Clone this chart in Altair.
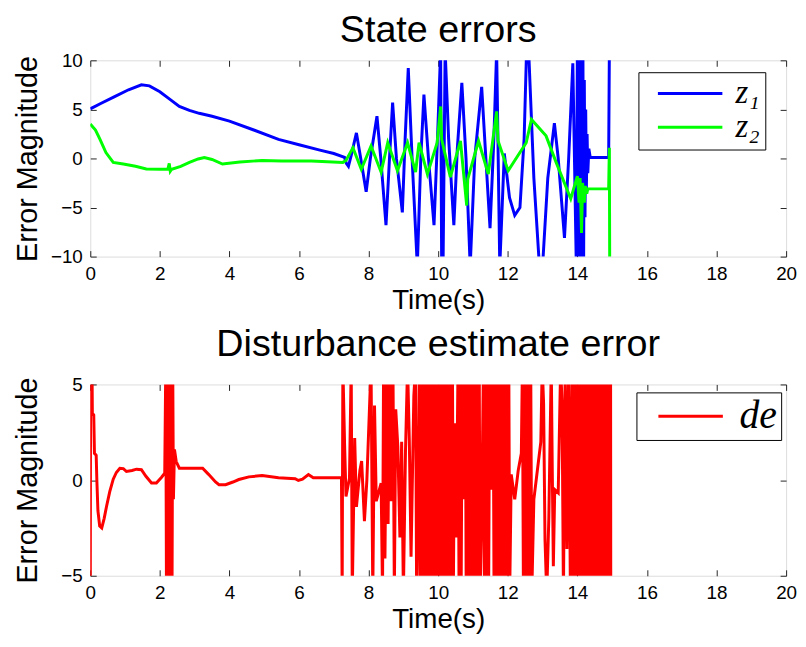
import altair as alt
import pandas as pd

SANS = "Liberation Sans, Arial, sans-serif"
MATH = "Liberation Serif, DejaVu Serif, serif"
FRAME = "#262626"

x_ticks = [0, 2, 4, 6, 8, 10, 12, 14, 16, 18, 20]
state_y_ticks = [-10, -5, 0, 5, 10]
dist_y_ticks = [-5, 0, 5]

state_names = ["z₁", "z₂"]
state_colors = ["#0000ff", "#00ff00"]
dist_names = ["de"]
dist_colors = ["#ff0000"]

# ---- z1 (time, value); values beyond the axis are clipped
z1_drift = [(0.0, 5.05), (0.3, 5.6), (0.7, 6.3), (1.1, 7.0), (1.47, 7.5), (1.7, 7.4),
            (2.0, 6.8), (2.3, 6.0), (2.56, 5.3), (2.85, 4.9), (3.13, 4.6), (3.5, 4.3),
            (4.0, 3.8), (4.7, 2.9), (5.41, 1.95), (6.0, 1.4), (6.6, 0.85), (7.0, 0.5),
            (7.31, 0.1)]
z1_burst = [(7.36, -0.5), (7.42, -0.8), (7.5, 0.3), (7.65, 2.6), (7.75, 0.5), (7.93, -3.4),
            (8.05, 0.0), (8.24, 4.3), (8.35, 0.0), (8.5, -6.8), (8.6, 0.0), (8.69, 5.7),
            (8.8, 0.0), (8.97, -5.5), (9.05, 2.0), (9.14, 9.2), (9.25, 0.0), (9.4, -11),
            (9.5, 0.0), (9.59, 6.5), (9.72, 0.0), (9.88, -6.8), (9.98, 2.0), (10.07, 11),
            (10.1, -11), (10.14, -11), (10.2, 11), (10.3, 2.0), (10.45, -6.8), (10.55, 1.0),
            (10.68, 7.7), (10.8, 0.0), (10.92, -11), (11.05, 0.0), (11.25, 7.3), (11.37, 0.0),
            (11.49, -7.1), (11.6, 2.0), (11.68, 11), (11.77, -11), (11.9, 0.5), (12.05, -4.0),
            (12.2, -5.8), (12.35, -5.0), (12.47, 2.0), (12.54, 11), (12.6, 11), (12.75, -2.0),
            (12.91, -11), (13.0, -11), (13.15, -2.0), (13.34, 3.6), (13.45, 0.0), (13.63, -8.1),
            (13.75, 0.0), (13.87, 9.7), (13.97, -11)]
z1_chatter = [(14.0, 11), (14.02, -11), (14.04, 11), (14.06, -11), (14.08, 11), (14.1, -11),
              (14.12, 11), (14.14, -11), (14.16, 11), (14.18, -11), (14.2, 8.0), (14.22, -6.0),
              (14.24, 5.0), (14.26, -3.0), (14.28, 2.5), (14.3, -1.5), (14.33, 1.0), (14.37, 0.1),
              (14.9, 0.1), (14.92, 11)]

# ---- z2
z2_settle = [(0.0, 3.5), (0.15, 2.9), (0.28, 1.95), (0.45, 0.6), (0.66, -0.4), (0.95, -0.57),
             (1.3, -0.8), (1.61, -1.08), (2.0, -1.1), (2.23, -1.08), (2.27, -0.5), (2.3, -1.3),
             (2.34, -1.1), (2.6, -0.8), (2.85, -0.4), (3.1, -0.05), (3.28, 0.1), (3.5, -0.1),
             (3.8, -0.57), (4.3, -0.37), (4.94, -0.2), (5.5, -0.25), (6.36, -0.27), (7.26, -0.4)]
z2_burst = [(7.35, -0.2), (7.55, 1.1), (7.79, -1.1), (8.07, 1.28), (8.36, -1.4), (8.55, 1.6),
            (8.83, -1.25), (9.12, 1.6), (9.35, -1.4), (9.45, 1.6), (9.69, -1.6), (9.97, 1.6),
            (10.07, 5.3), (10.1, 1.95), (10.35, -1.9), (10.64, 1.78), (10.82, -4.8), (10.85, -2.1),
            (11.16, 1.78), (11.44, -1.6), (11.68, 4.8), (11.72, 1.8), (12.01, -1.25), (12.53, 1.6),
            (12.68, 3.97), (13.1, 2.3), (13.39, -0.4), (13.81, -4.1), (14.0, -1.8), (14.05, -4.5),
            (14.08, -2.0), (14.12, -7.6), (14.15, -2.5), (14.2, -4.5), (14.23, -2.8), (14.27, -3.6),
            (14.3, -3.1), (14.9, -3.1), (14.92, 1.1), (14.93, -11)]

# ---- de
de_start = [(0.0, -6), (0.01, 6), (0.05, 6), (0.06, 3.5), (0.1, 3.4), (0.12, 1.4), (0.17, 1.3),
            (0.19, -0.05), (0.22, -1.6), (0.27, -2.4), (0.33, -2.5), (0.4, -2.0), (0.47, -1.35),
            (0.56, -0.6), (0.66, 0.05), (0.75, 0.4), (0.85, 0.62), (0.95, 0.6), (1.04, 0.45),
            (1.2, 0.5), (1.33, 0.57), (1.47, 0.54), (1.6, 0.2), (1.76, -0.15), (1.9, -0.15),
            (2.05, 0.15), (2.14, 0.36)]
de_glitch = [(2.17, 6), (2.19, -6), (2.21, 6), (2.23, -6), (2.25, 6), (2.27, -6), (2.29, 6),
             (2.31, -6), (2.33, 6), (2.35, -6), (2.37, 6), (2.39, -1.0), (2.42, 1.6), (2.47, 0.97)]
de_calm = [(2.56, 0.62), (3.23, 0.62), (3.4, 0.3), (3.6, -0.1), (3.7, -0.24), (3.89, -0.24),
           (4.1, -0.1), (4.27, 0.03), (4.56, 0.17), (4.94, 0.24), (5.41, 0.12), (5.89, 0.07),
           (5.98, -0.02), (6.1, 0.05), (6.27, 0.29), (6.41, 0.12), (7.22, 0.12)]
de_onset = [(7.24, -6), (7.26, 6), (7.31, 1.84), (7.35, -0.85), (7.45, 0.1), (7.5, 6), (7.53, -6),
            (7.6, 2.2), (7.65, -1.4), (7.75, 0.5), (7.8, 1.0), (7.88, -2.15), (7.95, 0.0),
            (8.07, 6), (8.12, -6), (8.17, 3.9), (8.22, -1.1), (8.36, -0.16), (8.4, -6), (8.43, 6),
            (8.47, -4.1), (8.52, 6), (8.56, -2.3), (8.6, 6), (8.65, -1.1), (8.7, 6), (8.74, -6),
            (8.78, 3.7), (8.84, 1.75), (8.9, -3.0), (8.95, 2.0), (9.0, -6), (9.06, 1.5),
            (9.12, 6), (9.17, 2.1), (9.22, -4.0), (9.3, 4.4), (9.35, 6), (9.38, -6), (9.43, 0.0)]
de_block_a = [(9.46, 6), (9.485, -6), (9.51, 6), (9.535, -6), (9.56, 6), (9.585, -6), (9.61, 6),
              (9.635, -6), (9.66, 6), (9.685, -6), (9.71, 6), (9.735, -6), (9.76, 6), (9.785, -6),
              (9.81, 6), (9.835, -6), (9.86, 6), (9.885, -6), (9.91, 6), (9.935, -6), (9.96, 6),
              (9.985, -6), (10.01, 6), (10.035, -6), (10.06, 6), (10.085, -6), (10.11, 6),
              (10.135, -6), (10.16, 6), (10.185, -6), (10.21, 6), (10.235, -6), (10.26, 6),
              (10.285, -6), (10.31, 6), (10.335, -6), (10.36, 6), (10.385, -6), (10.41, 6),
              (10.435, -6)]
de_gap_a = [(10.47, 2.97), (10.52, -3.0), (10.57, 6), (10.6, -6), (10.63, 6), (10.66, -6),
            (10.69, 6), (10.73, -1.0)]
de_block_b = [(10.78, 6), (10.805, -6), (10.83, 6), (10.855, -6), (10.88, 6), (10.905, -6),
              (10.93, 6), (10.955, -6), (10.98, 6), (11.005, -6), (11.03, 6), (11.055, -6),
              (11.08, 6), (11.105, -6), (11.13, 6), (11.155, -6), (11.18, 6), (11.205, -6)]
de_gap_b = [(11.25, -2.0), (11.3, 6), (11.33, -6), (11.36, 6), (11.39, -6), (11.42, 6),
            (11.45, -6), (11.48, 6), (11.52, -0.5)]
de_block_c = [(11.58, 6), (11.605, -6), (11.63, 6), (11.655, -6), (11.68, 6), (11.705, -6),
              (11.73, 6), (11.755, -6), (11.78, 6), (11.805, -6), (11.83, 6), (11.855, -6),
              (11.88, 6), (11.905, -6), (11.93, 6), (11.955, -6), (11.98, 6), (12.005, -6),
              (12.03, 6), (12.055, -6)]
de_tail = [(12.1, 0.3), (12.2, -1.0), (12.3, 0.5), (12.39, 1.4), (12.42, 6), (12.45, -6),
           (12.48, 6), (12.51, -6), (12.54, 6), (12.57, -6), (12.6, 6), (12.63, -6), (12.66, 6),
           (12.69, -6), (12.75, -1.0), (12.85, 0.5), (12.95, 2.0), (12.99, 6), (13.03, 4.0),
           (13.07, -3.1), (13.12, -6), (13.18, -2.0), (13.25, 6), (13.28, 0.37), (13.31, -4.5),
           (13.35, -0.5), (13.45, -0.67), (13.52, 6), (13.56, 4.0), (13.6, -6), (13.65, 6),
           (13.7, -3.6), (13.75, 6), (13.8, -6), (13.85, 6)]
de_final = [(13.89, -6), (13.915, 6), (13.94, -6), (13.965, 6), (13.99, -6), (14.015, 6),
            (14.04, -6), (14.065, 6), (14.09, -6), (14.115, 6), (14.14, -6), (14.165, 6),
            (14.19, -6), (14.215, 6), (14.24, -6), (14.265, 6), (14.29, -6), (14.315, 6),
            (14.34, -6), (14.365, 6), (14.39, -6), (14.415, 6), (14.44, -6), (14.465, 6),
            (14.49, -6), (14.515, 6), (14.54, -6), (14.565, 6), (14.59, -6), (14.615, 6),
            (14.64, -6), (14.665, 6), (14.69, -6), (14.715, 6), (14.74, -6), (14.765, 6),
            (14.79, -6), (14.815, 6), (14.84, -6), (14.865, 6), (14.89, -6), (14.915, 6),
            (14.94, -6), (14.955, 6), (14.96, -6)]


def series(name, *parts):
    pts = [p for part in parts for p in part]
    return pd.DataFrame({"t": [p[0] for p in pts], "v": [p[1] for p in pts],
                         "s": name, "i": list(range(len(pts)))})


state_df = pd.concat([series(state_names[0], z1_drift, z1_burst, z1_chatter),
                      series(state_names[1], z2_settle, z2_burst)], ignore_index=True)
dist_df = series(dist_names[0], de_start, de_glitch, de_calm, de_onset, de_block_a, de_gap_a,
                 de_block_b, de_gap_b, de_block_c, de_tail, de_final)


def panel(df, names, colors, ydomain, yticks, height, title, leg_x, leg_y,
          leg_font, leg_pad, leg_row):
    base = alt.Chart(df)
    xs = alt.Scale(domain=[0, 20], nice=False, zero=False)
    ys = alt.Scale(domain=ydomain, nice=False, zero=False)
    lines = base.mark_line(strokeWidth=3, clip=True).encode(
        x=alt.X("t:Q", scale=xs, axis=alt.Axis(
            values=x_ticks, title="Time(s)", ticks=False, tickSize=0, domain=False, grid=False,
            labelPadding=8, titlePadding=3, labelFont=SANS, labelFontSize=19, labelColor="black",
            titleFont=SANS, titleFontSize=28, titleFontWeight="normal", titleColor="black",
            labelFlush=False, labelOverlap=False)),
        y=alt.Y("v:Q", scale=ys, axis=alt.Axis(
            values=yticks, title="Error Magnitude", ticks=False, tickSize=0, domain=False,
            grid=False, labelPadding=8, labelFont=SANS, labelFontSize=19, labelColor="black",
            titleFont=SANS, titleFontSize=29, titleFontWeight="normal", titleColor="black",
            titleX=-63, titleY=height / 2, titleBaseline="middle", titleAngle=270,
            labelFlush=False, labelOverlap=False)),
        color=alt.Color("s:N", scale=alt.Scale(domain=names, range=colors), legend=alt.Legend(
            title=None, orient="none", legendX=leg_x, legendY=leg_y, direction="vertical",
            strokeColor="black", fillColor="white", padding=leg_pad, rowPadding=leg_row,
            symbolType="M-1,0H5", symbolSize=470, symbolStrokeWidth=3, symbolOffset=9,
            labelOffset=51, labelFont=MATH, labelFontStyle="italic", labelFontSize=leg_font,
            labelColor="black", cornerRadius=0)),
        order=alt.Order("i:Q"),
    )

    def tick_layer(xo, yo):
        return base.mark_line(opacity=0).encode(
            x=alt.X("t:Q", scale=xs, axis=alt.Axis(
                orient=xo, offset=-6, values=x_ticks, labels=False, domain=False, grid=False,
                ticks=True, tickSize=6, tickColor=FRAME, tickWidth=1, title=None)),
            y=alt.Y("v:Q", scale=ys, axis=alt.Axis(
                orient=yo, offset=-6, values=yticks, labels=False, domain=False, grid=False,
                ticks=True, tickSize=6, tickColor=FRAME, tickWidth=1, title=None)),
            detail="s:N",
            order=alt.Order("i:Q"),
        )

    return alt.layer(lines, tick_layer("bottom", "left"), tick_layer("top", "right")).resolve_axis(
        x="independent", y="independent"
    ).properties(
        width=702, height=height,
        title=alt.TitleParams(title, font=SANS, fontSize=38, fontWeight="normal", color="black",
                              anchor="middle", offset=1),
    )


top = panel(state_df, state_names, state_colors, [-10, 10], state_y_ticks, 198,
            "State errors", 553, 12, 33, 5, 0)
bottom = panel(dist_df, dist_names, dist_colors, [-5, 5], dist_y_ticks, 193,
               "Disturbance estimate error", 551, 8, 40, 4, 0)

chart = alt.vconcat(top, bottom, spacing=11).resolve_scale(
    color="independent"
).resolve_legend(
    color="independent"
).properties(
    padding={"left": 5, "top": 0, "right": 0, "bottom": 0}
).configure_view(stroke=FRAME, strokeWidth=1).configure(background="white")

chart.save("out.html", embed_options={"renderer": "svg", "actions": False})
